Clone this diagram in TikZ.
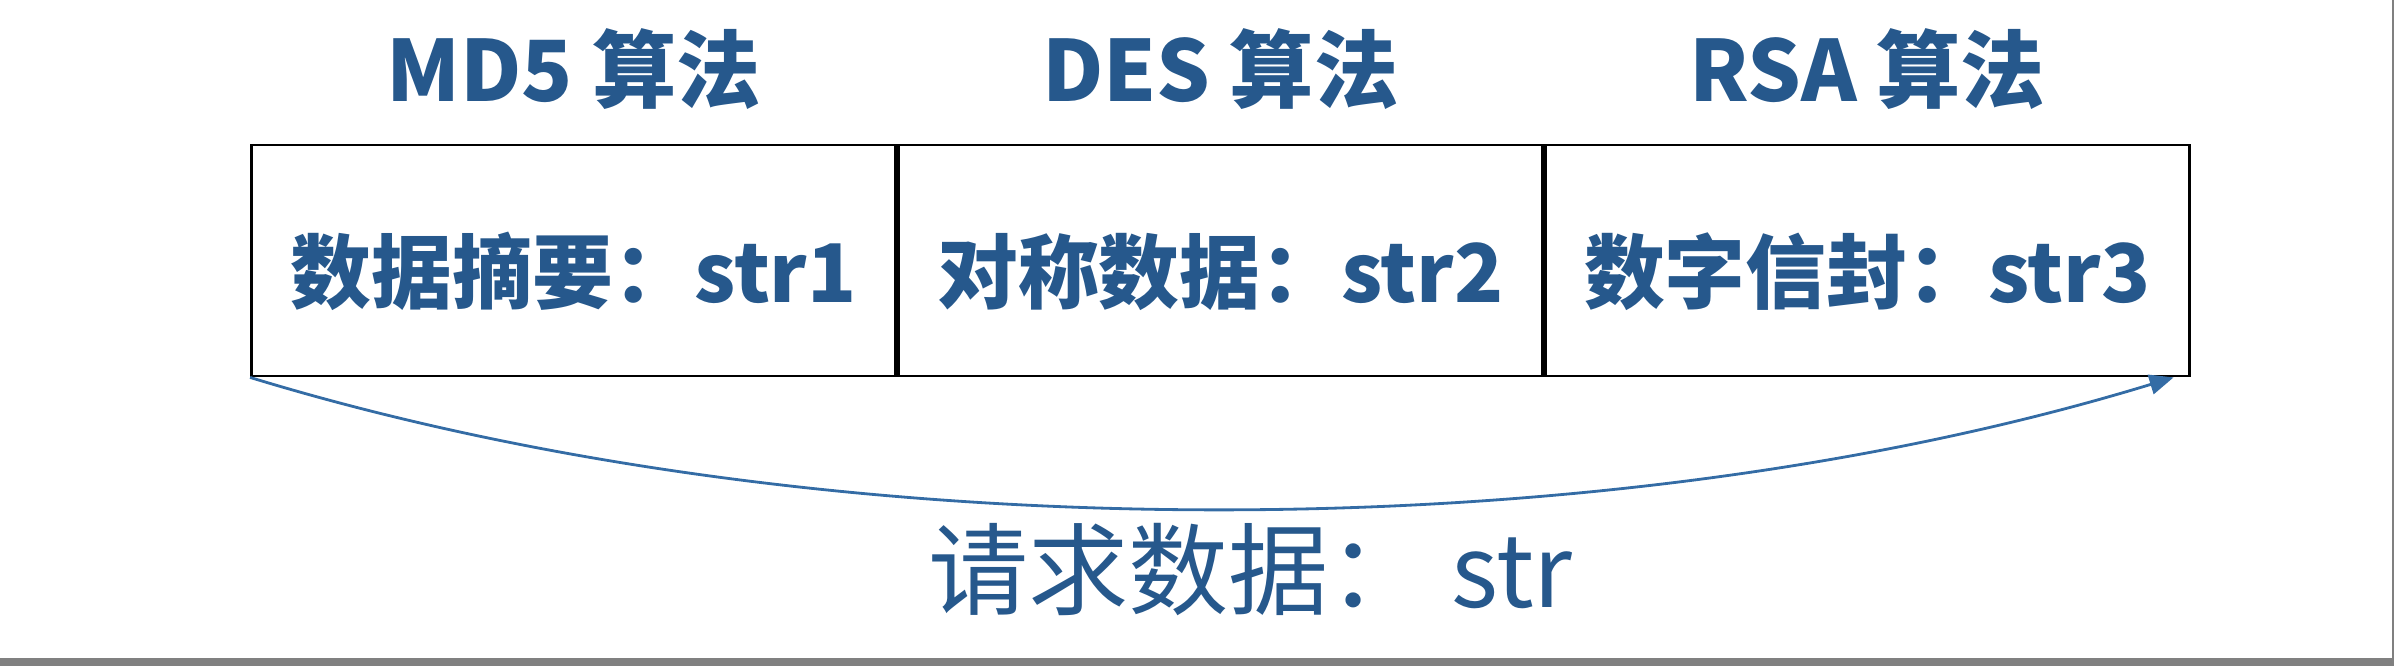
\documentclass[tikz,border=0pt]{standalone}
\usepackage{fontspec}
\setmainfont{Noto Sans CJK SC}
\usepackage{tikz}
\usetikzlibrary{arrows.meta,positioning}
\usepackage{xcolor}
\definecolor{algoblue}{RGB}{38,88,140}
\definecolor{linkblue}{RGB}{52,108,165}
\definecolor{framegray}{RGB}{128,128,128}

\begin{document}
\begin{tikzpicture}[>=Stealth,
  cellbox/.style={draw=black, line width=0.8pt, minimum width=6.44cm,
    minimum height=2.31cm, inner sep=0pt, text=algoblue,
    text height=0.93cm, text depth=0.1cm,
    font=\fontsize{23}{23}\selectfont\bfseries},
  algolabel/.style={inner sep=0pt, text=algoblue,
    font=\fontsize{24}{24}\selectfont\bfseries},
  reqarrow/.style={linkblue, line width=0.8pt,
    -{Triangle[length=0.24cm, width=0.2cm]}},
  reqlabel/.style={inner sep=0pt, text=algoblue,
    font=\fontsize{28.5}{28.5}\selectfont}]
  \useasboundingbox (0,0) rectangle (23.94,-6.66);
  %% ── screenshot frame ───────────────────────────────
  \fill[framegray] (0,-6.58) rectangle (23.94,-6.66);
  \fill[framegray] (23.92,0) rectangle (23.94,-6.66);

  %% ── three cells ─────────────────────────────────────
  \node[cellbox] (md5cell) at (5.735,-2.605) {数据摘要：str1};
  \node[cellbox, right=0pt of md5cell] (descell) {对称数据：str2};
  \node[cellbox, right=0pt of descell] (rsacell) {数字信封：str3};

  %% ── algorithm names ────────────────────────────────
  \node[algolabel, above=0.33cm of md5cell] (md5name) {MD5 算法};
  \node[algolabel, above=0.33cm of descell] (desname) {DES 算法};
  \node[algolabel, above=0.33cm of rsacell] (rsaname) {RSA 算法};

  %% ── request arrow ──────────────────────────────────
  \coordinate (reqend) at ([xshift=-0.17cm]rsacell.south east);
  \draw[reqarrow] (md5cell.south west) to[bend right=17, looseness=0.8] (reqend);
  \node[reqlabel, below=1.45cm of descell, xshift=0.3cm] (reqtext) {请求数据： str};
\end{tikzpicture}
\end{document}
